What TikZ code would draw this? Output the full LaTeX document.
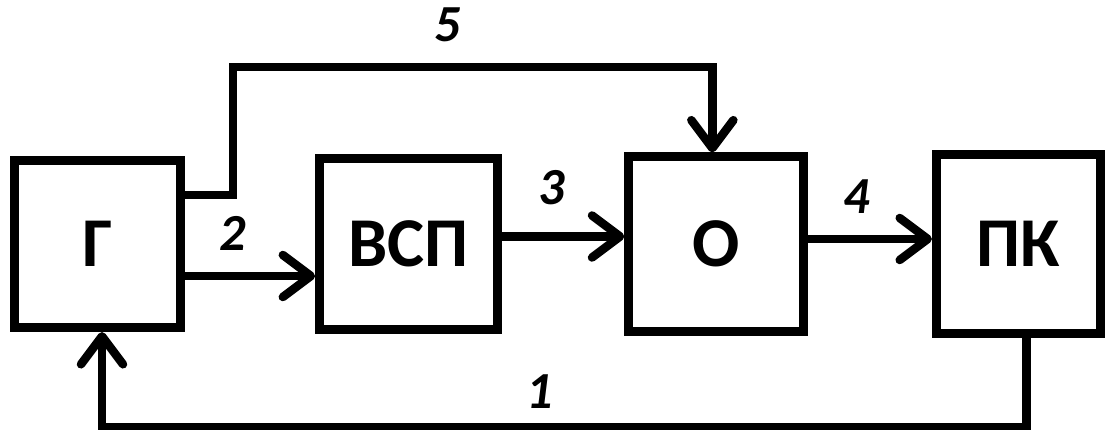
\documentclass[tikz,border=0pt]{standalone}
\usepackage{fontspec}
\setmainfont{Carlito}
\usetikzlibrary{positioning,arrows.meta}

\begin{document}
\begin{tikzpicture}[x=0.01cm,y=0.01cm,on grid,line width=0.085cm,
    blk/.style={draw,line width=0.09cm,inner sep=0pt,font=\fontsize{19.9}{20}\selectfont\bfseries},
    lbl/.style={font=\fontsize{14.8}{15}\selectfont\bfseries\itshape},
    >={Straight Barb[length=0.28cm,width=0.42cm,round]}]
    \useasboundingbox (0,0) rectangle (1105,430);

    \node[blk,minimum width=1.66cm,minimum height=1.67cm] (g) at (97.5,186) {Г};
    \node[blk,minimum width=1.78cm,minimum height=1.70cm] (vsp) [right=3.11cm of g] {ВСП};
    \node[blk,minimum width=1.75cm,minimum height=1.74cm] (o) [right=3.075cm of vsp] {О};
    \node[blk,minimum width=1.64cm,minimum height=1.78cm] (pk) [right=3.02cm of o] {ПК};
    \coordinate (top) at (233,363);

    \path[->]
    ([yshift=-0.32cm]g.east) edge ([yshift=-0.32cm]g.east -| vsp.west)
    ([yshift=0.075cm]vsp.east) edge ([yshift=0.075cm]vsp.east -| o.west)
    ([yshift=0.05cm]o.east) edge ([yshift=0.05cm]o.east -| pk.west);
    \draw[->] ([yshift=0.49cm]g.east) -| (top) -| ([xshift=-0.04cm]o.north);
    \draw[->] ([xshift=0.08cm]pk.south) -- ++(0cm,-0.895cm) -| ([xshift=0.045cm]g.south);

    \node[lbl] (n1) at (540,38) {1};
    \node[lbl] (n2) at (233,197) {2};
    \node[lbl] (n3) at (552,242) {3};
    \node[lbl] (n4) at (857,233) {4};
    \node[lbl] (n5) at (448,405) {5};
\end{tikzpicture}
\end{document}
